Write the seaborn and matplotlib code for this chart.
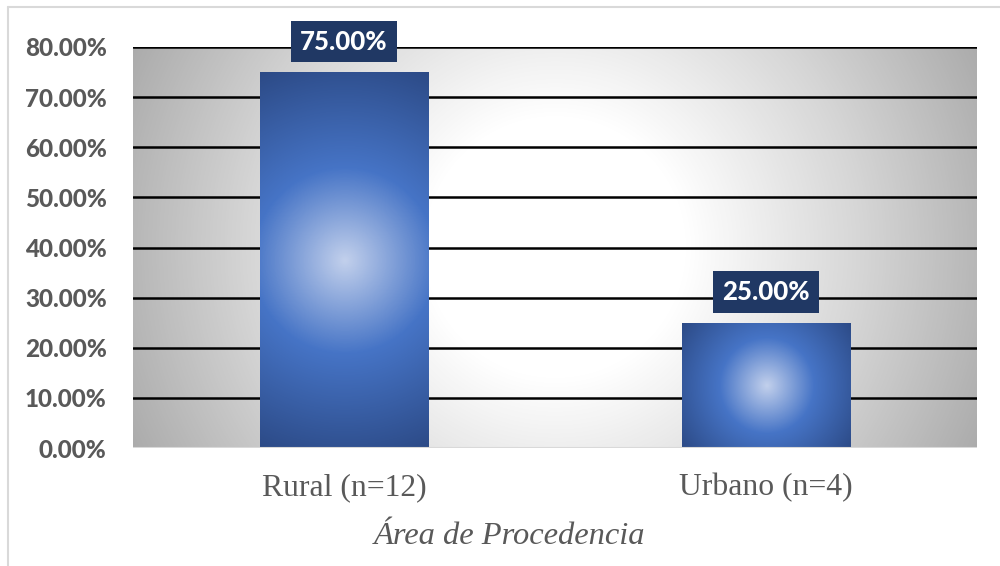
import numpy as np
import pandas as pd
import matplotlib
matplotlib.use("Agg")
import matplotlib.pyplot as plt
import seaborn as sns
from matplotlib.colors import LinearSegmentedColormap
from matplotlib.lines import Line2D

categories = ["Rural (n=12)", "Urbano (n=4)"]
values = [0.75, 0.25]
yticks = [0.0, 0.1, 0.2, 0.3, 0.4, 0.5, 0.6, 0.7, 0.8]
xlabel = "Área de Procedencia"

sns.set_theme(style="white")
plt.rcParams["font.family"] = ["Lato", "DejaVu Sans"]

W, H = 1000, 566
fig = plt.figure(figsize=(W / 100, H / 100), dpi=100)
ax = fig.add_axes([133 / W, 1 - 448 / H, (977 - 133) / W, (448 - 47) / H])

df = pd.DataFrame({"cat": categories, "val": values})
sns.barplot(data=df, x="cat", y="val", ax=ax, color="#4472c4", width=0.40,
            saturation=1, zorder=3)
ax.set_ylim(0, 0.8)
ax.set_xlim(-0.5, 1.5)

# background radial gradient (pixel space)
pw, ph = 977 - 133, 448 - 47
xx, yy = np.meshgrid(np.arange(pw), np.arange(ph))
cx, cy = 555 - 133, 247 - 47
r = np.sqrt((xx - cx) ** 2 + (yy - cy) ** 2)
t = np.clip((r - 130) / 350, 0, 1)
bgcmap = LinearSegmentedColormap.from_list("bg", ["#ffffff", "#d6d6d6", "#a8a8a8"])
ax.imshow(t, cmap=bgcmap, vmin=0, vmax=1, extent=[-0.5, 1.5, 0, 0.8],
          aspect="auto", origin="upper", zorder=0)

# gradient fill on bars
barcmap = LinearSegmentedColormap.from_list(
    "bar", [(0, "#c2d0ec"), (0.45, "#4674c6"), (1.0, "#2c4a86")])
for p in ax.patches:
    x0, w = p.get_x(), p.get_width()
    hgt = p.get_height()
    if hgt <= 0:
        continue
    bw = 170
    bh = int(round(hgt / 0.8 * ph))
    gx, gy = np.meshgrid(np.arange(bw) - bw / 2, np.arange(bh) - bh / 2)
    rr = np.sqrt(gx ** 2 + gy ** 2) / np.sqrt((bw / 2) ** 2 + (bh / 2) ** 2)
    im = ax.imshow(rr, cmap=barcmap, vmin=0, vmax=1,
                   extent=[x0, x0 + w, 0, hgt], aspect="auto", zorder=3)
    im.set_clip_path(p)
    p.set_facecolor("none")
    p.set_edgecolor("none")
    ax.annotate(f"{hgt * 100:.2f}%", (x0 + w / 2, hgt), xytext=(0, 22),
                textcoords="offset points", ha="center", va="center",
                fontsize=18.5, fontweight="black", color="white", zorder=6,
                bbox=dict(boxstyle="square,pad=0.34", fc="#203864", ec="none"))

ax.set_xlim(-0.5, 1.5)
ax.set_ylim(0, 0.8)

# grid lines
for yv in yticks[1:]:
    ax.axhline(yv, color="black", lw=1.8, zorder=1)
ax.axhline(0, color="#d9d9d9", lw=1.5, zorder=4)

ax.set_yticks(yticks)
ax.set_yticklabels([f"{v * 100:.2f}%" for v in yticks], fontsize=17.5,
                   fontweight="black", color="#595959")
ax.tick_params(axis="y", length=0, pad=19)
ax.tick_params(axis="x", length=0, pad=18)
ax.set_xticks(range(len(categories)))
ax.set_xticklabels(categories, fontsize=22.8, color="#595959",
                   family="Liberation Serif")
ax.set_xlabel(xlabel, fontsize=23.4, color="#595959", family="Liberation Serif",
              style="italic")
ax.xaxis.set_label_coords((510 - 133) / (977 - 133), -(536 - 448) / (448 - 47))
ax.xaxis.label.set_va("center")
ax.set_ylabel("")
for s in ax.spines.values():
    s.set_visible(False)

# chart border (top and left visible)
fig.add_artist(Line2D([8 / W, 1], [1 - 7 / H, 1 - 7 / H], color="#d9d9d9", lw=1.5))
fig.add_artist(Line2D([8 / W, 8 / W], [0, 1 - 7 / H], color="#d9d9d9", lw=1.5))

fig.savefig("out.png", dpi=100)
